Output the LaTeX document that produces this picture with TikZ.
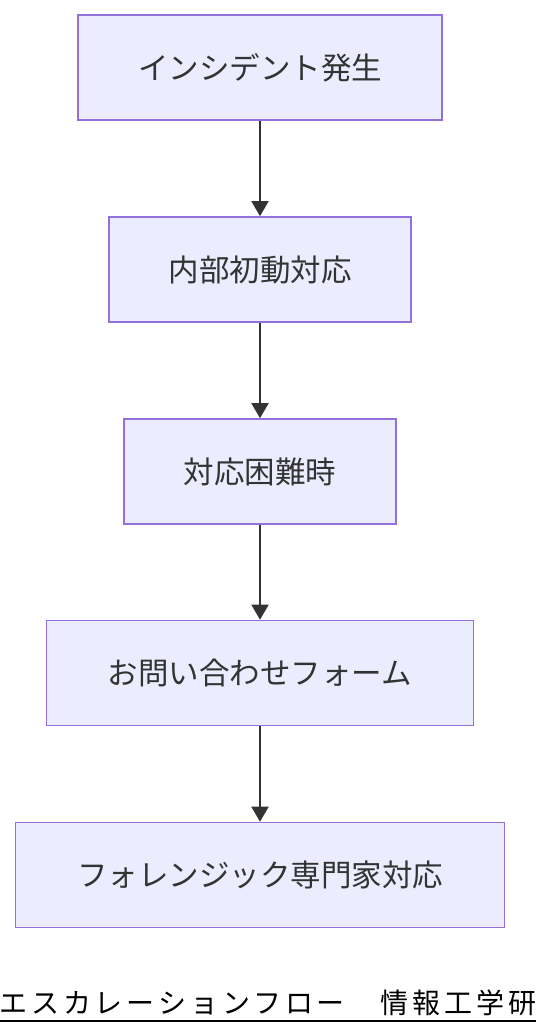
\documentclass[tikz,border=0pt]{standalone}
\usepackage{fontspec}
\setmainfont{Noto Sans CJK JP}
\newfontfamily\titlefont[LetterSpace=14]{Noto Sans CJK JP}
\usetikzlibrary{arrows.meta}
\definecolor{boxfill}{HTML}{ECECFF}
\definecolor{boxline}{HTML}{9370DB}
\definecolor{txt}{HTML}{333333}
\tikzset{
  flowbox/.style={draw=boxline, fill=boxfill, line width=1.6pt, minimum height=105pt,
    inner sep=0pt, text=txt, font=\fontsize{30.5}{35}\selectfont},
  flowarrow/.style={draw=txt, line width=1.8pt, -{Triangle[width=17pt,length=15pt]}}
}
\begin{document}
\begin{tikzpicture}[x=1pt,y=-1pt]
\useasboundingbox (0,0) rectangle (536,1036);
\node[flowbox, minimum width=364pt] (n1) at (260,67.5) {インシデント発生};
\node[flowbox, minimum width=302pt] (n2) at (260,269.5) {内部初動対応};
\node[flowbox, minimum width=272pt] (n3) at (260,471.5) {対応困難時};
\node[flowbox, minimum width=427pt] (n4) at (260,673) {お問い合わせフォーム};
\node[flowbox, minimum width=489pt] (n5) at (260,875) {フォレンジック専門家対応};
\draw[flowarrow] (n1) -- (n2);
\draw[flowarrow] (n2) -- (n3);
\draw[flowarrow] (n3) -- (n4);
\draw[flowarrow] (n4) -- (n5);
\node[anchor=base west, inner sep=0pt, font=\titlefont\fontsize{28}{32}\selectfont, text=black] (title) at (-1,1013) {エスカレーションフロー　情報工学研};
\draw[line width=2pt, black] (0,1021) -- (536,1021);
\end{tikzpicture}
\end{document}
